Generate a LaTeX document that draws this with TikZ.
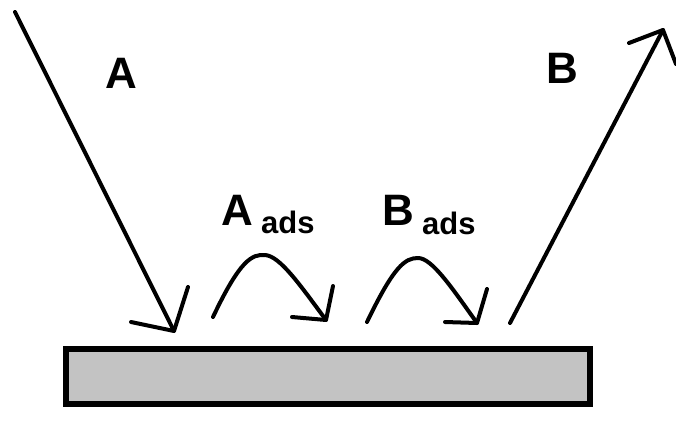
\documentclass[tikz,border=0pt]{standalone}
\usepackage{fontspec}
\setmainfont{Liberation Sans}
\begin{document}
\begin{tikzpicture}[x=1pt,y=-1pt,
  stroke/.style={line width=4pt,line cap=round,line join=round},
  big/.style={inner sep=0pt,anchor=base west,font=\fontsize{44}{44}\selectfont\bfseries},
  sub/.style={inner sep=0pt,anchor=base west,font=\fontsize{31}{31}\selectfont\bfseries}]
\useasboundingbox (0,0) rectangle (676,434);
\definecolor{surf}{HTML}{C3C3C3}
% surface
\draw[line width=6pt,fill=surf] (66,349) rectangle (590,404);
% coordinates
\coordinate (a0) at (15,12);
\coordinate (a1) at (174,331);
\coordinate (ab1) at (188,287);
\coordinate (ab2) at (131,322);
\coordinate (b0) at (510,323);
\coordinate (b1) at (663,30);
\coordinate (bb1) at (629,43);
\coordinate (bb2) at (676,64);
\coordinate (c0) at (213,317);
\coordinate (c1) at (326,320);
\coordinate (cb1) at (333,286);
\coordinate (cb2) at (292,317);
\coordinate (d0) at (367,322);
\coordinate (d1) at (477,323);
\coordinate (db1) at (487,289);
\coordinate (db2) at (445,322);
% arrows
\draw[stroke] (a0) -- (a1);
\draw[stroke] (ab1) -- (a1) -- (ab2);
\draw[stroke] (b0) -- (b1);
\draw[stroke] (bb1) -- (b1) -- (bb2);
\draw[stroke] (c0) .. controls (240,260) and (252,254) .. (265,255) .. controls (280,256) and (300,285) .. (c1);
\draw[stroke] (cb1) -- (c1) -- (cb2);
\draw[stroke] (d0) .. controls (394,266) and (405,258) .. (418,258) .. controls (432,258) and (452,288) .. (d1);
\draw[stroke] (db1) -- (d1) -- (db2);
% labels
\node[big] (la) at (105,88) {A};
\node[big] (lb) at (546,83) {B};
\node[big] (laa) at (221,225) {A};
\node[sub] (las) at (261,233) {ads};
\node[big] (lba) at (382,225) {B};
\node[sub] (lbs) at (422,234) {ads};
\end{tikzpicture}
\end{document}
